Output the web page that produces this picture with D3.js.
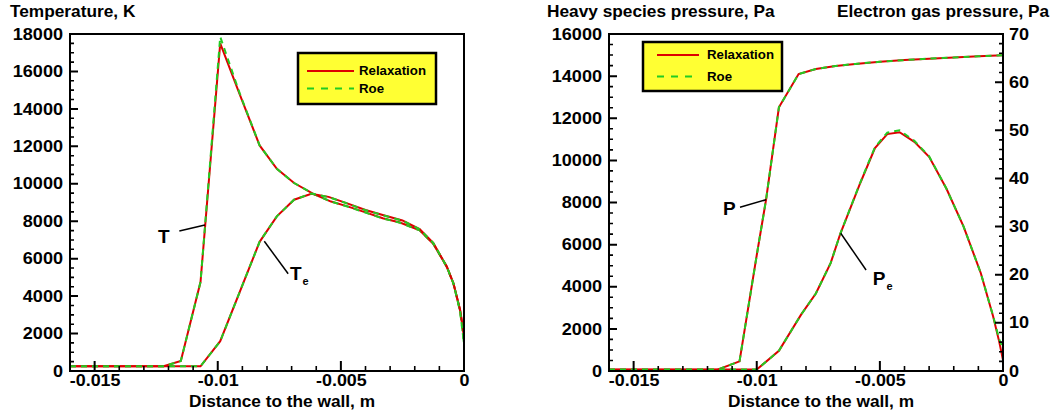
<!DOCTYPE html>
<html>
<head>
<meta charset="utf-8">
<script src="https://cdn.jsdelivr.net/npm/d3@7/dist/d3.min.js"></script>
<style>
  body { margin: 0; background: #fff; }
  text { font-family: "Liberation Sans", Arial, sans-serif; font-weight: bold; fill: #000; }
</style>
</head>
<body>
<script>
/******************************************************************************/
/* DATA                                                                       */
/******************************************************************************/
// shared x axis (distance to the wall, m)
var xTickVals   = [-0.015, -0.01, -0.005, 0];
var xTickLabels = ['-0.015', '-0.01', '-0.005', '0'];
var xMinorVals  = [-0.014, -0.013, -0.012, -0.011, -0.009, -0.008, -0.007,
                   -0.006, -0.004, -0.003, -0.002, -0.001];

// left panel: temperatures
var tTickVals  = [0, 2000, 4000, 6000, 8000, 10000, 12000, 14000, 16000, 18000];
var tMinorVals = [500, 1000, 1500, 2500, 3000, 3500, 4500, 5000, 5500, 6500, 7000, 7500,
                  8500, 9000, 9500, 10500, 11000, 11500, 12500, 13000, 13500, 14500,
                  15000, 15500, 16500, 17000, 17500];

var tX     = [-0.016, -0.0122, -0.0115, -0.0107, -0.0099, -0.0091, -0.0083, -0.0076, -0.0069,
              -0.0061, -0.0054, -0.0047, -0.0040, -0.0033, -0.0026, -0.0018, -0.00125,
              -0.0007, -0.00043, -0.00016, 0];
var tRelax = [250, 250, 530, 4750, 17500, 14750, 12050, 10800, 10040,
              9450, 9050, 8780, 8470, 8160, 7930, 7520, 6800,
              5570, 4680, 3260, 1900];
var tRoe   = [250, 250, 530, 4750, 17850, 14800, 12050, 10800, 10040,
              9450, 9050, 8770, 8460, 8150, 7920, 7510, 6800,
              5560, 4670, 3200, 1480];

var teX     = [-0.016, -0.0107, -0.0099, -0.0083, -0.0076, -0.0069, -0.0062, -0.0055, -0.0048,
               -0.0040, -0.0033, -0.0025, -0.0018, -0.00125, -0.0007, -0.00043, -0.00016, 0];
var teRelax = [250, 250, 1590, 6900, 8260, 9150, 9470, 9300, 8980,
               8600, 8330, 8040, 7580, 6840, 5580, 4690, 3270, 1900];
var teRoe   = [250, 250, 1590, 6900, 8260, 9150, 9480, 9290, 8970,
               8590, 8320, 8030, 7570, 6840, 5570, 4680, 3210, 1480];

// right panel: pressures
var pTickVals   = [0, 2000, 4000, 6000, 8000, 10000, 12000, 14000, 16000];
var pMinorVals  = [500, 1000, 1500, 2500, 3000, 3500, 4500, 5000, 5500, 6500, 7000, 7500,
                   8500, 9000, 9500, 10500, 11000, 11500, 12500, 13000, 13500, 14500,
                   15000, 15500];
var peTickVals  = [0, 10, 20, 30, 40, 50, 60, 70];
var peMinorVals = [2, 4, 6, 8, 12, 14, 16, 18, 22, 24, 26, 28, 32, 34, 36, 38,
                   42, 44, 46, 48, 52, 54, 56, 58, 62, 64, 66, 68];

var pX     = [-0.016, -0.0116, -0.0107, -0.0100, -0.00962, -0.0091, -0.0083, -0.0076,
              -0.0068, -0.0060, -0.0050, -0.0040, -0.0030, -0.0020, -0.0010, 0];
var pRelax = [60, 60, 460, 5500, 8150, 12520, 14100, 14340,
              14480, 14580, 14680, 14760, 14830, 14880, 14940, 14990];
var pRoe   = [60, 60, 460, 5500, 8150, 12520, 14100, 14340,
              14480, 14580, 14680, 14760, 14830, 14880, 14940, 14990];

var peX     = [-0.016, -0.0100, -0.0091, -0.0082, -0.0076, -0.0070, -0.0066, -0.0058, -0.0052,
               -0.0047, -0.0042, -0.0036, -0.0030, -0.0023, -0.0016, -0.0009, -0.0004,
               -0.00015, 0];
var peRelax = [0.3, 0.3, 4.2, 11.7, 16.1, 22.4, 28.6, 39.0, 46.3,
               49.2, 49.6, 47.6, 44.5, 37.9, 30.0, 20.3, 11.3, 6.0, 2.3];
var peRoe   = [0.3, 0.3, 4.2, 11.7, 16.1, 22.4, 28.6, 39.1, 46.5,
               49.5, 50.0, 47.8, 44.6, 37.9, 30.0, 20.3, 11.4, 6.5, 4.8];

var legendNames = ['Relaxation', 'Roe'];

/******************************************************************************/
/* HELPERS                                                                    */
/******************************************************************************/
var W = 1058, H = 417;
var RED = '#dd0000', GREEN = '#22cc22', YELLOW = '#ffff33';

var svg = d3.select('body').append('svg')
  .attr('width', W)
  .attr('height', H);

var zip = function(xs, ys) {
  return xs.map(function(x, i) { return [x, ys[i]]; });
};

// Tecplot's Helvetica is wider than Liberation: stretch text horizontally
var widen = function(sel, k) {
  sel.each(function() {
    var t = d3.select(this);
    var x = +t.attr('x') || 0;
    t.attr('x', x / k).attr('transform', 'scale(' + k + ',1)');
  });
};

// labels only, through d3.axis; tick marks are drawn by drawTicks() below
var styleLabels = function(g) {
  g.select('.domain').remove();
  g.selectAll('line').remove();
  g.selectAll('text')
    .attr('font-size', 16)
    .attr('font-family', '"Liberation Sans", Arial, sans-serif')
    .attr('font-weight', 'bold')
    .attr('fill', '#000');
};

// inward tick marks, one path per set: side is 'bottom', 'left' or 'right'
var tickLayer = null;
var drawTicks = function(scale, vals, side, pos, len, width) {
  var d = vals.map(function(v) {
    var p = scale(v);
    if (side === 'bottom') return 'M' + p + ',' + pos + 'V' + (pos - len);
    if (side === 'left')   return 'M' + pos + ',' + p + 'H' + (pos + len);
    return 'M' + pos + ',' + p + 'H' + (pos - len);
  }).join('');
  tickLayer.append('path')
    .attr('d', d)
    .attr('fill', 'none')
    .attr('stroke', '#000')
    .attr('stroke-width', width);
};

var label = function(v, vals, labels) {
  var i = vals.indexOf(v);
  return i < 0 ? '' : labels[i];
};

var drawCurve = function(g, line, pts, color, dashed) {
  g.append('path')
    .datum(pts)
    .attr('d', line)
    .attr('fill', 'none')
    .attr('stroke', color)
    .attr('stroke-width', 2)
    .attr('stroke-dasharray', dashed ? '6,5' : null);
};

var drawLegend = function(g, box) {
  g.append('rect')
    .attr('x', box.x).attr('y', box.y)
    .attr('width', box.w).attr('height', box.h)
    .attr('fill', YELLOW)
    .attr('stroke', '#000')
    .attr('stroke-width', 2.5);
  [RED, GREEN].forEach(function(c, i) {
    var ly = box.y + box.row0 + i * box.step;
    g.append('line')
      .attr('x1', box.x + box.l0).attr('x2', box.x + box.l1)
      .attr('y1', ly).attr('y2', ly)
      .attr('stroke', c).attr('stroke-width', 2)
      .attr('stroke-dasharray', i ? '7,7' : null);
    g.append('text')
      .attr('x', box.x + box.tx).attr('y', ly + 4.5)
      .attr('font-size', 12.5)
      .text(legendNames[i])
      .call(widen, 1.06);
  });
};

var drawNote = function(g, x, y, note) {
  g.append('line')
    .attr('x1', x(note.from[0])).attr('y1', y(note.from[1]))
    .attr('x2', x(note.to[0])).attr('y2', y(note.to[1]))
    .attr('stroke', '#000').attr('stroke-width', 1.5);
  var t = g.append('text')
    .attr('x', x(note.at[0])).attr('y', y(note.at[1]))
    .attr('font-size', 19);
  t.append('tspan').text(note.main);
  if (note.sub) {
    t.append('tspan').attr('font-size', 11).attr('dx', 1).attr('dy', 5).text(note.sub);
  }
};

var title = function(txt, x, y) {
  svg.append('text')
    .attr('transform', 'translate(' + x + ',' + y + ') scale(1.08,1)')
    .attr('font-size', 16)
    .text(txt);
};

/******************************************************************************/
/* PANELS                                                                     */
/******************************************************************************/
var drawPanel = function(cfg) {
  var x0 = cfg.left, x1 = cfg.left + 394, y0 = 34, y1 = 371;
  var g = svg.append('g');

  var x = d3.scaleLinear().domain([-0.016, 0]).range([x0, x1]);
  var y = d3.scaleLinear().domain(cfg.yDomain).range([y1, y0]);
  var y2 = cfg.y2Domain ? d3.scaleLinear().domain(cfg.y2Domain).range([y1, y0]) : null;

  var clipId = 'clip' + cfg.left;
  svg.append('clipPath').attr('id', clipId)
    .append('rect').attr('x', x0).attr('y', y0).attr('width', x1 - x0).attr('height', y1 - y0);

  var curves = g.append('g').attr('clip-path', 'url(#' + clipId + ')');
  cfg.series.forEach(function(s) {
    var ys = s.y2 ? y2 : y;
    var line = d3.line().x(function(d) { return x(d[0]); }).y(function(d) { return ys(d[1]); });
    drawCurve(curves, line, zip(s.x, s.relax), RED, false);
    drawCurve(curves, line, zip(s.x, s.roe), GREEN, true);
  });

  // frame
  g.append('rect')
    .attr('x', x0).attr('y', y0).attr('width', x1 - x0).attr('height', y1 - y0)
    .attr('fill', 'none').attr('stroke', '#000').attr('stroke-width', 2);

  // bottom axis labels
  g.append('g').attr('transform', 'translate(0,' + y1 + ')')
    .call(d3.axisBottom(x).tickValues(xTickVals).tickSize(0).tickPadding(4)
      .tickFormat(function(d) { return label(d, xTickVals, xTickLabels); }))
    .call(styleLabels)
    .selectAll('text').call(widen, 1.12);

  // left axis labels
  g.append('g').attr('transform', 'translate(' + x0 + ',0)')
    .call(d3.axisLeft(y).tickValues(cfg.yTicks).tickSize(0).tickPadding(7)
      .tickFormat(function(d) { return d; }))
    .call(styleLabels)
    .selectAll('text').call(widen, 1.13);

  // right axis labels (second quantity)
  if (y2) {
    g.append('g').attr('transform', 'translate(' + x1 + ',0)')
      .call(d3.axisRight(y2).tickValues(cfg.y2Ticks).tickSize(0).tickPadding(6)
        .tickFormat(function(d) { return d; }))
      .call(styleLabels)
      .selectAll('text').call(widen, 1.13);
  }

  g.append('text')
    .attr('transform', 'translate(' + ((x0 + x1) / 2 + 15) + ',407) scale(1.08,1)')
    .attr('text-anchor', 'middle')
    .attr('font-size', 16)
    .text('Distance to the wall, m');

  drawLegend(g, cfg.legend);
  cfg.notes.forEach(function(n) { drawNote(g, x, y, n); });

  // tick marks, in a layer on top of everything
  tickLayer = svg.append('g');
  drawTicks(x, xTickVals, 'bottom', y1, 10, 2);
  drawTicks(x, xMinorVals, 'bottom', y1, 5, 1.6);
  drawTicks(y, cfg.yTicks, 'left', x0, 8, 2);
  drawTicks(y, cfg.yMinor, 'left', x0, 4, 1.6);
  if (y2) {
    drawTicks(y2, cfg.y2Ticks, 'right', x1, 8, 2);
    drawTicks(y2, cfg.y2Minor, 'right', x1, 4, 1.6);
  }
};

/******************************************************************************/
/* RUNTIME                                                                    */
/******************************************************************************/
title('Temperature, K', 10, 17);
title('Heavy species pressure, Pa', 547, 17);
title('Electron gas pressure, Pa', 837, 17);

drawPanel({
  left: 70,
  yDomain: [0, 18000], yTicks: tTickVals, yMinor: tMinorVals,
  series: [
    { x: tX,  relax: tRelax,  roe: tRoe },
    { x: teX, relax: teRelax, roe: teRoe }
  ],
  legend: { x: 298, y: 53, w: 138, h: 51, row0: 18, step: 17.5, l0: 9, l1: 56, tx: 61 },
  notes: [
    { main: 'T', from: [-0.01052, 7798], to: [-0.01156, 7477], at: [-0.01243, 6836] },
    { main: 'T', sub: 'e', from: [-0.00811, 6927], to: [-0.00714, 5197], at: [-0.00707, 4860] }
  ]
});

drawPanel({
  left: 609,
  yDomain: [0, 16000], yTicks: pTickVals, yMinor: pMinorVals,
  y2Domain: [0, 70], y2Ticks: peTickVals, y2Minor: peMinorVals,
  series: [
    { x: pX,  relax: pRelax,  roe: pRoe },
    { x: peX, relax: peRelax, roe: peRoe, y2: true }
  ],
  legend: { x: 643, y: 42, w: 139, h: 49, row0: 13, step: 21.5, l0: 14, l1: 56, tx: 64 },
  notes: [
    { main: 'P', from: [-0.00962, 8133], to: [-0.01068, 7773], at: [-0.01137, 7421] },
    { main: 'P', sub: 'e', from: [-0.00659, 6538], to: [-0.00556, 4795], at: [-0.00529, 4083] }
  ]
});
</script>
</body>
</html>
